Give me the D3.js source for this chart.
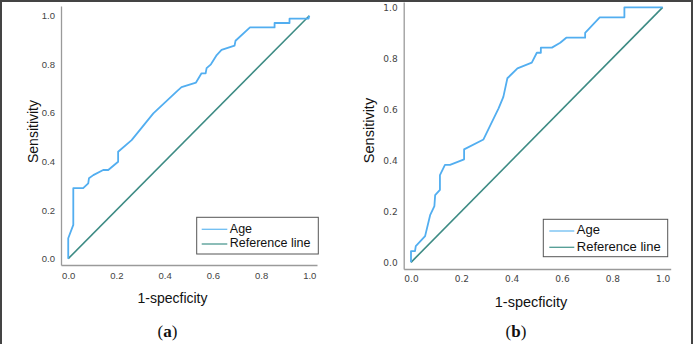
<!DOCTYPE html>
<html>
<head>
<meta charset="utf-8">
<script src="https://d3js.org/d3.v7.min.js"></script>
<style>
    body { margin: 0; background: #fff; }
</style>
</head>
<body>
<svg id="drawing_region"></svg>
<script>
const tick_values = [0.0, 0.2, 0.4, 0.6, 0.8, 1.0];
const legend_labels = ["Age", "Reference line"];
const panel_labels = ["a", "b"];
const x_title = "1-specficity";
const y_title = "Sensitivity";
const ref_line = [0, 1];

// panel (a) ROC points
const age_a_fpr = [0, 0, 0.021, 0.021, 0.062, 0.083, 0.086, 0.104, 0.145, 0.166, 0.207, 0.207, 0.263, 0.353, 0.456, 0.47, 0.53, 0.553, 0.57, 0.574, 0.592, 0.616, 0.636, 0.69, 0.694, 0.754, 0.856, 0.856, 0.918, 0.918, 0.997, 1.0];
const age_a_tpr = [0, 0.084, 0.139, 0.29, 0.29, 0.31, 0.331, 0.344, 0.365, 0.365, 0.399, 0.44, 0.488, 0.598, 0.694, 0.706, 0.725, 0.763, 0.763, 0.784, 0.8, 0.838, 0.859, 0.877, 0.897, 0.952, 0.952, 0.97, 0.97, 0.988, 0.988, 1.0];

// panel (b) ROC points
const age_b_fpr = [0, 0, 0.016, 0.019, 0.056, 0.076, 0.093, 0.096, 0.115, 0.115, 0.135, 0.155, 0.211, 0.211, 0.288, 0.348, 0.367, 0.383, 0.423, 0.48, 0.5, 0.516, 0.516, 0.56, 0.593, 0.617, 0.692, 0.692, 0.75, 0.848, 0.848, 1.0];
const age_b_tpr = [0, 0.044, 0.044, 0.064, 0.103, 0.185, 0.221, 0.264, 0.284, 0.342, 0.382, 0.382, 0.404, 0.443, 0.482, 0.604, 0.649, 0.722, 0.761, 0.783, 0.822, 0.822, 0.842, 0.842, 0.861, 0.881, 0.881, 0.9, 0.961, 0.961, 1.0, 1.0];

const svg = d3.select('#drawing_region')
    .attr('width', 694)
    .attr('height', 344);

// outer frame
svg.append('path')
    .attr('d', 'M1,344 V1 H692 V344')
    .attr('fill', 'none')
    .attr('stroke', '#444')
    .attr('stroke-width', 2);

class RocChart {
    constructor(config, fpr, tpr) {
        this.config = config;
        this.data = fpr.map((d, i) => ({ x: d, y: tpr[i] }));
        this.ref = ref_line.map(d => ({ x: d, y: d }));
        this.init();
    }
    init() {
        let self = this;
        let c = self.config;

        self.chart = svg.append('g');

        self.xscale = d3.scaleLinear()
            .domain(c.xdomain)
            .range(c.xrange);
        self.yscale = d3.scaleLinear()
            .domain(c.ydomain)
            .range(c.yrange);

        self.xaxis = d3.axisBottom(self.xscale)
            .tickValues(tick_values)
            .tickFormat(d3.format('.1f'))
            .tickSize(0)
            .tickPadding(c.xpad);
        self.yaxis = d3.axisLeft(self.yscale)
            .tickValues(tick_values)
            .tickFormat(d3.format('.1f'))
            .tickSize(0)
            .tickPadding(c.ypad);

        self.xaxis_group = self.chart.append('g')
            .attr('transform', `translate(0, ${c.yrange[0]})`);
        self.yaxis_group = self.chart.append('g')
            .attr('transform', `translate(${c.xrange[0]}, 0)`);
    }
    render() {
        let self = this;
        let c = self.config;

        self.xaxis_group.call(self.xaxis);
        self.yaxis_group.call(self.yaxis);
        [self.xaxis_group, self.yaxis_group].forEach(g => {
            g.select('.domain').attr('stroke', '#9a9a9a').attr('stroke-width', 1.3);
            g.selectAll('text')
                .attr('font-family', c.tick_font)
                .attr('font-size', c.tick_size)
                .attr('fill', '#444');
        });

        const line = d3.line()
            .x(d => self.xscale(d.x))
            .y(d => self.yscale(d.y));

        self.chart.append('path')
            .attr('d', line(self.ref))
            .attr('fill', 'none')
            .attr('stroke', '#3d8b84')
            .attr('stroke-width', 1.6);

        self.chart.append('path')
            .attr('d', line(self.data))
            .attr('fill', 'none')
            .attr('stroke', '#52aef0')
            .attr('stroke-width', 1.8)
            .attr('stroke-linejoin', 'round');

        // titles
        self.chart.append('text')
            .attr('transform', `translate(${c.ytitle[0]}, ${c.ytitle[1]}) rotate(-90)`)
            .attr('text-anchor', 'middle')
            .attr('font-family', 'Liberation Sans, Arial, sans-serif')
            .attr('font-size', c.title_size)
            .attr('fill', '#111')
            .text(y_title);
        self.chart.append('text')
            .attr('x', c.xtitle[0])
            .attr('y', c.xtitle[1])
            .attr('text-anchor', 'middle')
            .attr('font-family', 'Liberation Sans, Arial, sans-serif')
            .attr('font-size', c.title_size)
            .attr('fill', '#111')
            .text(x_title);

        // legend
        const lg = c.legend;
        self.chart.append('rect')
            .attr('x', lg.x).attr('y', lg.y)
            .attr('width', lg.w).attr('height', lg.h)
            .attr('fill', '#fff')
            .attr('stroke', '#555')
            .attr('stroke-width', 1);
        const colors = ['#6dbdf2', '#4e9a92'];
        legend_labels.forEach((label, i) => {
            const ly = lg.line_y + i * lg.step;
            self.chart.append('line')
                .attr('x1', lg.x + lg.pad).attr('x2', lg.x + lg.pad + lg.len)
                .attr('y1', ly).attr('y2', ly)
                .attr('stroke', colors[i])
                .attr('stroke-width', 1.3);
            self.chart.append('text')
                .attr('x', lg.x + lg.pad + lg.len + 2.5)
                .attr('y', ly + 3.4)
                .attr('font-family', 'Liberation Sans, Arial, sans-serif')
                .attr('font-size', lg.font)
                .attr('fill', '#111')
                .text(label);
        });

        // panel label
        const pl = self.chart.append('text')
            .attr('x', c.label[0])
            .attr('y', c.label[1])
            .attr('text-anchor', 'middle')
            .attr('font-family', 'Liberation Serif, serif')
            .attr('font-size', 17)
            .attr('fill', '#111');
        pl.append('tspan').text('(');
        pl.append('tspan').attr('font-weight', 'bold').text(c.name);
        pl.append('tspan').text(')');
    }
}

const chart_a = new RocChart({
    name: panel_labels[0],
    xdomain: [-0.03, 1.032], xrange: [61, 317],
    ydomain: [-0.026, 1.04], yrange: [265, 6],
    xpad: 7, ypad: 6,
    tick_font: 'Liberation Sans, Arial, sans-serif', tick_size: 9.5,
    title_size: 14,
    ytitle: [38, 131.5], xtitle: [172.5, 303],
    legend: { x: 196.7, y: 217.3, w: 121.6, h: 36.7, pad: 5, len: 25.6, line_y: 229.3, step: 14.7, font: 12.5 },
    label: [167.5, 337]
}, age_a_fpr, age_a_tpr);
chart_a.render();

const chart_b = new RocChart({
    name: panel_labels[1],
    xdomain: [-0.029, 1.032], xrange: [403.7, 670.7],
    ydomain: [-0.026, 1.021], yrange: [269, 2],
    xpad: 7, ypad: 6,
    tick_font: 'DejaVu Sans, sans-serif', tick_size: 9,
    title_size: 14.5,
    ytitle: [374, 130.5], xtitle: [531, 307],
    legend: { x: 543.3, y: 219.3, w: 124.4, h: 37.4, pad: 6, len: 25, line_y: 231, step: 16.3, font: 13 },
    label: [516, 337]
}, age_b_fpr, age_b_tpr);
chart_b.render();
</script>
</body>
</html>
